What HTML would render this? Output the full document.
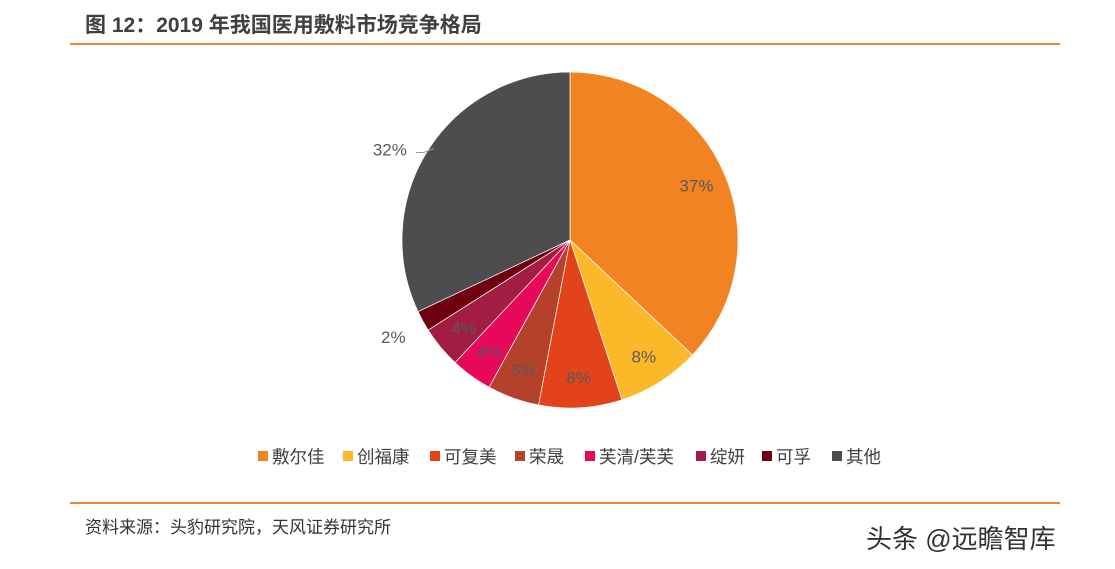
<!DOCTYPE html>
<html><head><meta charset="utf-8"><style>
body{margin:0;width:1115px;height:569px;background:#fff;font-family:"Liberation Sans","Noto Sans CJK SC",sans-serif;overflow:hidden;position:relative}
.t{position:absolute;left:85px;top:9px;font-size:21px;font-weight:bold;color:#404040}
.ln{position:absolute;left:70px;width:990px;height:2px;background:#E8873A}
.src{position:absolute;left:85px;top:513px;font-size:17px;color:#333}
.wm{position:absolute;left:866px;top:519px;font-size:26px;color:#333}
</style></head><body>
<div class="t">图 12：2019 年我国医用敷料市场竞争格局</div>
<div class="ln" style="top:43px"></div>
<div class="ln" style="top:502px"></div>
<div class="src">资料来源：头豹研究院，天风证券研究所</div>
<div class="wm">头条 @远瞻智库</div>
<svg id="c" width="1115" height="569" style="position:absolute;left:0;top:0"></svg>
<script>
const categories=["敷尔佳","创福康","可复美","荣晟","芙清/芙芙","绽妍","可孚","其他"];
const values=[37,8,8,5,4,4,2,32];
const colors=["#F28322","#FBB829","#E2431B","#B5412A","#E8085A","#A21C43","#6E0010","#4D4D4F"];
const legendX=[258,343,430,515,585,696,762,832];
const svg=document.getElementById('c');const NS="http://www.w3.org/2000/svg";
const cx=570,cy=240,R=168;
const total=values.reduce((a,b)=>a+b,0);
function pt(a,r){return[cx+r*Math.sin(a),cy-r*Math.cos(a)];}
let acc=0;
values.forEach((v,i)=>{
 const a0=acc/total*2*Math.PI;acc+=v;const a1=acc/total*2*Math.PI;
 const p0=pt(a0,R),p1=pt(a1,R);
 const p=document.createElementNS(NS,'path');
 p.setAttribute('d',`M${cx},${cy}L${p0[0]},${p0[1]}A${R},${R} 0 ${a1-a0>Math.PI?1:0} 1 ${p1[0]},${p1[1]}Z`);
 p.setAttribute('fill',colors[i]);p.setAttribute('stroke','#fff');p.setAttribute('stroke-width','0.7');
 
 
 svg.appendChild(p);
 let am=(a0+a1)/2;const big=v>=30&&i==values.length-1;const outside=v<=2||big;
 if(big)am-=0.1;
 let lp=pt(am,outside?R*1.2:R*0.82);
 if(big){const l=document.createElementNS(NS,'path');
  l.setAttribute('d',`M${lp[0]+26},${lp[1]+3}L${lp[0]+34},${lp[1]+3}L${lp[0]+44},${lp[1]-1}`);l.setAttribute('stroke','#999');l.setAttribute('fill','none');
  
  svg.appendChild(l);}
 const t=document.createElementNS(NS,'text');
 t.setAttribute('x',lp[0]);t.setAttribute('y',lp[1]+6);t.setAttribute('text-anchor','middle');
 t.setAttribute('font-size','17');t.setAttribute('fill','#595959');t.textContent=v+'%';
 
 
 svg.appendChild(t);
});
categories.forEach((c,i)=>{
 const g=document.createElementNS(NS,'g');
 
 
 const r=document.createElementNS(NS,'rect');r.setAttribute('x',legendX[i]);r.setAttribute('y',451);r.setAttribute('width',10);r.setAttribute('height',10);r.setAttribute('fill',colors[i]);
 const t=document.createElementNS(NS,'text');t.setAttribute('x',legendX[i]+14);t.setAttribute('y',463);t.setAttribute('font-size','17.5');t.setAttribute('fill','#404040');t.textContent=c;
 g.appendChild(r);g.appendChild(t);svg.appendChild(g);
});
</script>
</body></html>
